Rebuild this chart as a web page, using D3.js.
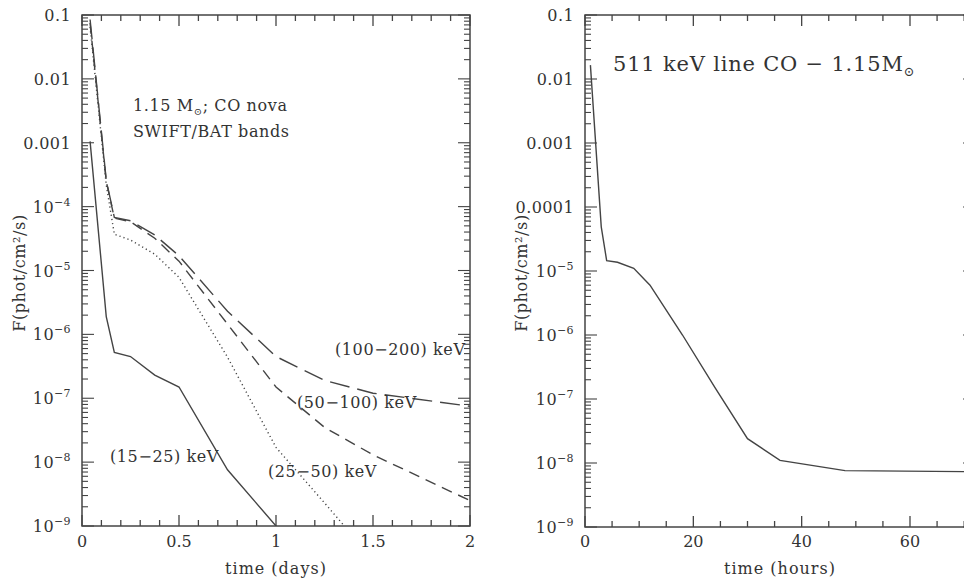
<!DOCTYPE html>
<html>
<head>
<meta charset="utf-8">
<script src="https://cdn.jsdelivr.net/npm/d3@7"></script>
<style>
  body { margin: 0; background: #fff; }
  text { font-family: "DejaVu Serif", serif; fill: #333; }
</style>
</head>
<body>
<svg id="chart" width="964" height="581"></svg>
<script>
// ---- Light curves of a 1.15 Msun CO nova (times in hours after outburst) ----
const bandHours15_25  = [1, 3, 4, 6, 9, 12, 18, 24];
const flux15_25       = [1.05e-3, 1.9e-6, 5.2e-7, 4.5e-7, 2.3e-7, 1.5e-7, 7.6e-9, 1.0e-9];

const bandHours25_50  = [1, 3, 4, 6, 9, 12, 18, 24, 30, 36];
const flux25_50       = [0.065, 2.2e-4, 3.7e-5, 3.0e-5, 1.8e-5, 7.8e-6, 4.4e-7, 1.7e-8, 2.3e-9, 3e-10];

const bandHours50_100 = [1, 3, 4, 6, 9, 12, 18, 24, 30, 36, 48];
const flux50_100      = [0.075, 2.5e-4, 6.6e-5, 5.8e-5, 3.2e-5, 1.4e-5, 1.45e-6, 1.5e-7, 3.5e-8, 1.3e-8, 2.5e-9];

const bandHours100_200 = [1, 3, 4, 6, 9, 12, 18, 24, 30, 36, 48];
const flux100_200      = [0.085, 2.6e-4, 6.8e-5, 6.0e-5, 3.6e-5, 1.7e-5, 2.3e-6, 4.5e-7, 1.9e-7, 1.2e-7, 7.5e-8];

const lineHours511 = [1, 3, 4, 6, 9, 12, 18, 24, 30, 36, 48, 72];
const flux511      = [1.65e-2, 4.9e-5, 1.45e-5, 1.37e-5, 1.1e-5, 6.0e-6, 1.0e-6, 1.5e-7, 2.4e-8, 1.1e-8, 7.6e-9, 7.3e-9];

// Band labels
const bandLabels = ["(15\u221225) keV", "(25\u221250) keV", "(50\u2212100) keV", "(100\u2212200) keV"];

// Axis ticks
const dayMajorTicks  = [0, 0.5, 1, 1.5, 2];
const hourMajorTicks = [0, 20, 40, 60];
const fluxDecades    = [1e-1, 1e-2, 1e-3, 1e-4, 1e-5, 1e-6, 1e-7, 1e-8, 1e-9];

const svg = d3.select("#chart");
const ink = "#444";

function fluxLabel(sel, v, decimalsDownTo) {
  const e = Math.round(Math.log10(v));
  if (e >= decimalsDownTo) {
    sel.text(d3.format("." + (-e) + "f")(v));
  } else {
    sel.append("tspan").text("10");
    sel.append("tspan").attr("font-size", 11).attr("dy", -7).text("\u2212" + (-e));
  }
}

function panel(cfg) {
  const x = d3.scaleLinear().domain(cfg.xDomain).range([cfg.left, cfg.right]);
  const y = d3.scaleLog().domain([1e-9, 0.1]).range([cfg.bottom, cfg.top]);
  const g = svg.append("g");

  const clipId = "clip" + cfg.id;
  svg.append("clipPath").attr("id", clipId).append("rect")
    .attr("x", cfg.left).attr("y", cfg.top)
    .attr("width", cfg.right - cfg.left).attr("height", cfg.bottom - cfg.top);

  // frame
  g.append("rect").attr("x", cfg.left).attr("y", cfg.top)
    .attr("width", cfg.right - cfg.left).attr("height", cfg.bottom - cfg.top)
    .attr("fill", "none").attr("stroke", ink).attr("stroke-width", 1.5);

  // x ticks, bottom and top (pointing inward)
  const xMinor = d3.range(cfg.xDomain[0], cfg.xDomain[1] + cfg.xMinorStep / 2, cfg.xMinorStep);
  xMinor.forEach(v => {
    const isMajor = cfg.xMajor.some(m => Math.abs(m - v) < 1e-9);
    const len = isMajor ? 11 : 6;
    const px = x(v);
    g.append("line").attr("x1", px).attr("x2", px).attr("y1", cfg.bottom).attr("y2", cfg.bottom - len)
      .attr("stroke", ink).attr("stroke-width", 1.3);
    g.append("line").attr("x1", px).attr("x2", px).attr("y1", cfg.top).attr("y2", cfg.top + len)
      .attr("stroke", ink).attr("stroke-width", 1.3);
  });
  cfg.xMajor.forEach(v => {
    g.append("text").attr("x", x(v)).attr("y", 547).attr("text-anchor", "middle")
      .attr("font-size", 16).text(d3.format("~g")(v));
  });

  // y ticks, log scale, left and right
  y.ticks().forEach(v => {
    const isMajor = fluxDecades.some(d => Math.abs(Math.log10(d) - Math.log10(v)) < 1e-6);
    const len = isMajor ? 12 : 6;
    const py = y(v);
    g.append("line").attr("x1", cfg.left).attr("x2", cfg.left + len).attr("y1", py).attr("y2", py)
      .attr("stroke", ink).attr("stroke-width", 1.1);
    g.append("line").attr("x1", cfg.right).attr("x2", cfg.right - len).attr("y1", py).attr("y2", py)
      .attr("stroke", ink).attr("stroke-width", 1.1);
  });
  fluxDecades.forEach(v => {
    const t = g.append("text").attr("x", cfg.left - 11).attr("y", y(v) + 6)
      .attr("text-anchor", "end").attr("font-size", 16).attr("letter-spacing", 0.4);
    fluxLabel(t, v, cfg.decimalsDownTo);
  });

  // axis titles
  g.append("text").attr("x", (cfg.left + cfg.right) / 2).attr("y", 574)
    .attr("text-anchor", "middle").attr("font-size", 16).attr("letter-spacing", 1)
    .text(cfg.xTitle);
  g.append("text")
    .attr("transform", `translate(${cfg.yTitleX},273) rotate(-90)`)
    .attr("text-anchor", "middle").attr("font-size", 16).attr("letter-spacing", 0.6)
    .text("F(phot/cm\u00b2/s)");

  return { x, y, g, clipId };
}

// ---------- left panel: SWIFT/BAT bands vs days ----------
const L = panel({
  id: "L", left: 82, right: 470, top: 15, bottom: 526,
  xDomain: [0, 2], xMajor: dayMajorTicks, xMinorStep: 0.1,
  decimalsDownTo: -3, xTitle: "time (days)", yTitleX: 25
});

const bandSeries = [
  { hours: bandHours15_25,   flux: flux15_25,   dash: null },
  { hours: bandHours25_50,   flux: flux25_50,   dash: "1.2 3" },
  { hours: bandHours50_100,  flux: flux50_100,  dash: "11 7" },
  { hours: bandHours100_200, flux: flux100_200, dash: "20 8" }
];
const lineL = d3.line().x(d => L.x(d[0] / 24)).y(d => L.y(d[1]));
bandSeries.forEach(s => {
  L.g.append("path")
    .attr("d", lineL(d3.zip(s.hours, s.flux)))
    .attr("clip-path", `url(#${L.clipId})`)
    .attr("fill", "none").attr("stroke", ink).attr("stroke-width", 1.4)
    .attr("stroke-dasharray", s.dash);
});

// band labels
const bandLabelPos = [[110, 462], [268, 477], [297, 408], [335, 355]];
bandLabels.forEach((t, i) => {
  L.g.append("text").attr("x", bandLabelPos[i][0]).attr("y", bandLabelPos[i][1])
    .attr("font-size", 16).attr("letter-spacing", 0.6).text(t);
});

// model annotation
const ann = L.g.append("text").attr("x", 133).attr("y", 111).attr("font-size", 16).attr("letter-spacing", 0.6);
ann.append("tspan").text("1.15 M");
ann.append("tspan").attr("font-size", 10).attr("dy", 4).text("\u2299");
ann.append("tspan").attr("dy", -4).text("; CO nova");
L.g.append("text").attr("x", 133).attr("y", 137).attr("font-size", 16).attr("letter-spacing", 0.6)
  .text("SWIFT/BAT bands");

// ---------- right panel: 511 keV line vs hours ----------
const R = panel({
  id: "R", left: 585, right: 975, top: 15, bottom: 527,
  xDomain: [0, 72], xMajor: hourMajorTicks, xMinorStep: 5,
  decimalsDownTo: -4, xTitle: "time (hours)", yTitleX: 527
});
const lineR = d3.line().x(d => R.x(d[0])).y(d => R.y(d[1]));
R.g.append("path")
  .attr("d", lineR(d3.zip(lineHours511, flux511)))
  .attr("clip-path", `url(#${R.clipId})`)
  .attr("fill", "none").attr("stroke", ink).attr("stroke-width", 1.4);

const ann2 = R.g.append("text").attr("x", 613).attr("y", 71).attr("font-size", 21).attr("letter-spacing", 0.8);
ann2.append("tspan").text("511 keV line CO \u2212 1.15M");
ann2.append("tspan").attr("font-size", 13).attr("dy", 5).text("\u2299");
</script>
</body>
</html>
